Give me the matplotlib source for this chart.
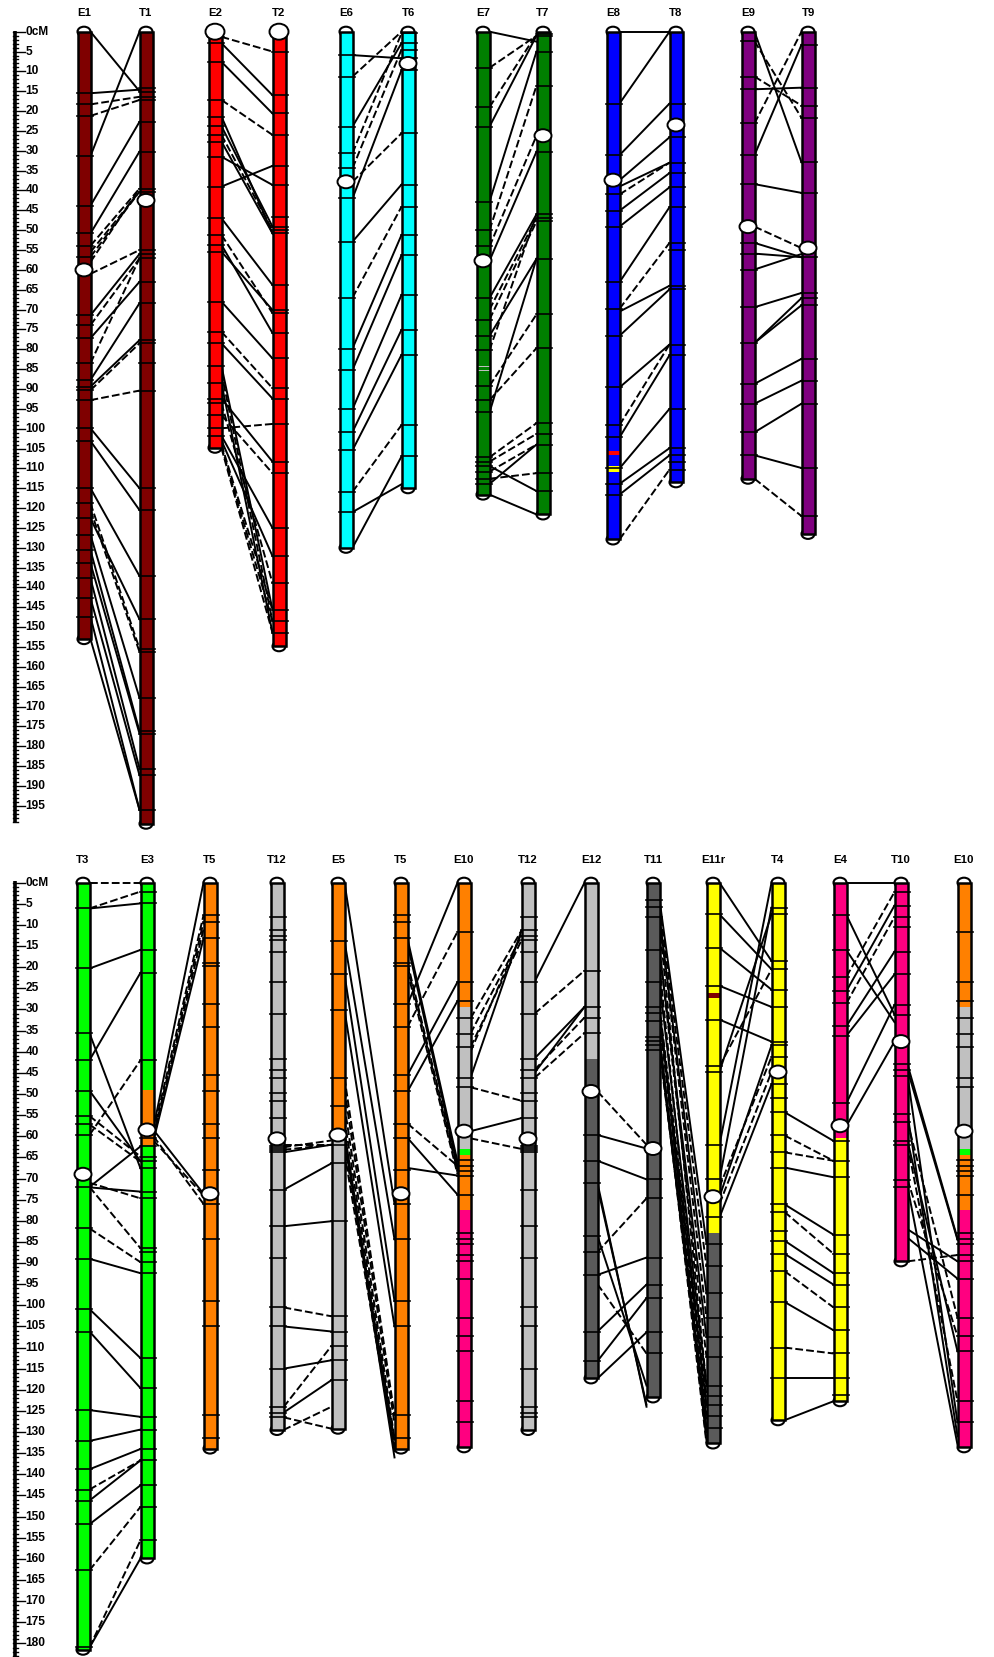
import numpy as np
import matplotlib.pyplot as plt
from matplotlib.patches import Rectangle, Ellipse

plt.rcParams['font.family'] = ['Liberation Sans', 'DejaVu Sans']

# ---------------- top panel data ----------------
top_names = ['E1', 'T1', 'E2', 'T2', 'E6', 'T6', 'E7', 'T7', 'E8', 'T8', 'E9', 'T9']
top_len = [153, 199.5, 104.8, 154.8, 130, 115, 116.6, 121.6, 127.9, 113.5, 112.6, 126.5]
top_cent = [60, 42.5, 0, 0, 37.8, 8, 57.7, 26.2, 37.4, 23.5, 49.1, 54.5]

e1_marks = [15.5, 18.3, 21.2, 31.3, 43.8, 50.8, 53.9, 56.7, 71.4, 73.9, 77.2, 83.5, 87.7,
            89.4, 90.3, 92.8, 99.9, 103.1, 115, 118.8, 122.6, 126.8, 130.6, 133.9, 137.7,
            142.7, 147.4]
t1_marks = [14.3, 15.1, 16.4, 17.2, 22.7, 30.2, 39.5, 40.3, 55, 56, 57.1, 63, 68.4, 77.7,
            78.5, 83.5, 90.4, 115, 120.5, 137.1, 148, 155.4, 156.2, 167.8, 176.2, 176.8,
            185.6, 187.3, 196]
e2_marks = [1.3, 2.9, 7.6, 17.2, 21.4, 23.8, 26, 27.7, 31.5, 39, 47, 51.2, 53.7, 55.4, 68,
            75.6, 78.5, 84.2, 88.6, 92.4, 93.6, 96.6, 99.9, 101.8]
t2_marks = [5, 16, 20.6, 26, 33.8, 38.6, 46.6, 49.1, 50, 50.8, 63.8, 70.1, 70.9, 75.9, 82.3,
            89.8, 92.4, 98.8, 108.3, 111.2, 125, 132.1, 138.9, 145.6, 148.5, 151.4]
e6_marks = [5.9, 11.3, 23.9, 30.6, 34.4, 42, 52.9, 67, 79.8, 85.2, 95.1, 100.8, 105.4,
            115.9, 121]
t6_marks = [0.4, 2.9, 4.5, 6.7, 9.7, 25.6, 38.5, 44.1, 51.2, 56.3, 66.3, 75.1, 81.4, 99.1, 107]
e7_marks = [9.1, 19, 23.9, 42.8, 50, 54.1, 67.1, 72.5, 76.6, 80.2, 89.2, 92.8, 95.9, 107.2,
            108.3, 109.4, 110.8, 112.6, 113.9]
t7_marks = [0.6, 1, 5, 13.6, 30.2, 46, 46.9, 47.8, 57.2, 71.2, 79.7, 98.6, 101.3, 104,
            111.2, 115.7]
e8_marks = [18.1, 31.1, 41, 45.1, 49.1, 63.1, 69.8, 76.6, 89.6, 99.1, 102.2, 110, 113.9, 116.6]
t8_marks = [18.1, 26.6, 33, 35.6, 39.2, 44.2, 53.2, 55, 64, 64.9, 78.8, 81.5, 95, 104.9,
            106.7, 108.5, 110.3]
e9_marks = [2.4, 11.3, 14.5, 23.1, 31.1, 38.4, 53.2, 55.9, 59.9, 69.4, 78.4, 88.7, 93.7,
            100.9, 106.7]
t9_marks = [3.3, 14.1, 18.6, 21.7, 32.9, 40.6, 56.8, 65.8, 67.1, 68.9, 82.4, 87.9, 93.7,
            109.9, 122]

# links: (cM on left map, cM on right map, dashed)
e1_t1 = [(0, 15, 0), (31.3, 0, 0), (15.5, 14.6, 0), (18.3, 16.4, 1), (21.2, 17.2, 1),
         (43.8, 22.7, 0), (50.8, 30.2, 0), (53.9, 39.5, 1), (55.5, 40.3, 1), (56.7, 40.3, 1),
         (58, 39.5, 1), (61, 55, 1), (71.4, 56, 0), (73.9, 57.1, 1), (77.2, 63, 0),
         (83.5, 57.1, 1), (87.7, 68.4, 0), (89.4, 77.7, 0), (90.3, 78.5, 1), (92.8, 90.4, 1),
         (99.9, 115, 0), (103.1, 120.5, 0), (115, 137.1, 0), (118.8, 155.4, 1),
         (120.5, 156.2, 1), (122.6, 148, 0), (126.8, 167.8, 0), (130.6, 176.2, 0),
         (133.9, 176.8, 0), (137.7, 185.6, 0), (142.7, 187.3, 0), (147.4, 196, 0),
         (153, 196, 0)]
e2_t2 = [(1.3, 5, 1), (2.9, 16, 0), (7.6, 20.6, 0), (17.2, 26, 1), (21.4, 50.8, 0),
         (23.8, 49.1, 0), (26, 50, 1), (27.7, 50.8, 0), (31.5, 38.6, 0), (39, 33.8, 0),
         (47, 63.8, 0), (51.2, 70.9, 1), (53.7, 75.9, 0), (55.4, 70.1, 0), (68, 82.3, 0),
         (75.6, 89.8, 1), (78.5, 92.4, 0), (84.2, 145.6, 0), (86, 148.5, 1), (88.6, 151.4, 0),
         (92.4, 108.3, 0), (93.6, 138.9, 1), (96.6, 111.2, 1), (99.9, 98.8, 1),
         (101.8, 125, 0), (103, 132.1, 0), (104.9, 151.4, 1), (104.5, 148.5, 1),
         (104, 145.6, 1)]
e6_t6 = [(5.9, 6.7, 0), (11.3, 0, 1), (23.9, 2.9, 0), (30.6, 0.4, 1), (34.4, 4.5, 1),
         (37.8, 25.6, 1), (42, 9.7, 0), (52.9, 38.5, 0), (67, 44.1, 1), (79.8, 51.2, 0),
         (85.2, 56.3, 0), (95.1, 66.3, 0), (100.8, 75.1, 0), (105.4, 81.4, 0),
         (115.9, 99.1, 1), (121, 114, 0), (130, 107, 0)]
e7_t7 = [(0, 2.5, 0), (9.1, 1, 1), (19, 0.6, 1), (23.9, 1, 0), (42.8, 5, 0), (50, 13.6, 1),
         (54.1, 26.2, 1), (57.7, 30.2, 0), (67.1, 46, 0), (70, 46.9, 1), (72.5, 47.8, 1),
         (76.6, 57.2, 0), (80.2, 46, 1), (89.2, 71.2, 1), (92.8, 79.7, 1), (95.9, 57.2, 0),
         (107.2, 98.6, 1), (108.3, 101.3, 1), (110.8, 104, 1), (112.6, 111.2, 1),
         (109.4, 115.7, 0), (113.9, 104, 0), (116.6, 121.6, 0)]
e8_t8 = [(0, 0, 0), (18.1, 0, 0), (31.1, 18.1, 0), (37.4, 26.6, 0), (39, 33, 0), (41, 33, 1),
         (45.1, 35.6, 0), (49.1, 39.2, 0), (63.1, 44.2, 0), (69.8, 53.2, 1), (70.5, 64, 0),
         (76.6, 64.9, 0), (89.6, 78.8, 0), (99.1, 78.8, 1), (102.2, 81.5, 0), (110, 95, 0),
         (113.9, 104.9, 0), (116.6, 106.7, 0), (127.9, 110.3, 1)]
e9_t9 = [(0, 32.9, 0), (2.4, 21.7, 1), (11.3, 18.6, 1), (14.5, 14.1, 0), (23.1, 0, 1),
         (31.1, 3.3, 0), (38.4, 40.6, 0), (49.1, 54.5, 1), (53.2, 56.8, 0), (55.9, 56.8, 0),
         (59.9, 56, 0), (69.4, 65.8, 0), (78.4, 67.1, 0), (78.4, 68.9, 0), (88.7, 82.4, 0),
         (93.7, 87.9, 0), (100.9, 93.7, 0), (106.7, 109.9, 0), (112.6, 122, 1)]

# ---------------- bottom panel data ----------------
bot_names = ['T3', 'E3', 'T5', 'T12', 'E5', 'T5', 'E10', 'T12', 'E12', 'T11', 'E11r',
             'T4', 'E4', 'T10', 'E10']
bot_len = [181.5, 159.9, 133.9, 129.5, 129.2, 133.9, 133.6, 129.5, 117.3, 121.8, 132.7,
           127.2, 122.7, 89.6, 133.6]
bot_cent = [69, 58.5, 73.6, 60.6, 59.7, 73.6, 58.8, 60.6, 49.4, 62.9, 74.3, 44.8, 57.5,
            37.6, 58.8]

t3_marks = [6.1, 20.3, 35.6, 42, 49.2, 55.2, 57.2, 59.7, 72.1, 81.8, 89, 100.9, 106.2, 124.8,
            132.1, 138.8, 143.6, 146.2, 151.8, 162.7, 180.9]
e3_marks = [2.1, 4.9, 15.9, 21.3, 42, 60.5, 62.4, 64.8, 65.9, 67.6, 73.1, 74.7, 86.5, 87.3,
            89.8, 92.4, 112.5, 119.6, 126.4, 129.4, 134, 136.7, 142.6, 147.7, 155.6]
t5_marks = [7.7, 9.3, 13.2, 19, 19.8, 28.8, 34.1, 45.5, 49.4, 57, 60.4, 68, 76, 84.4, 99,
            105, 125.9, 131.5]
t12_marks = [8.1, 11.3, 12.6, 13.6, 16.3, 23.5, 31, 41.6, 44.3, 46.2, 49.8, 51.6, 55.7, 62.3,
             62.8, 63.3, 63.8, 72.7, 81.3, 88.7, 100.5, 105, 115, 124.1, 125.4, 126.5]
e5_marks = [13.8, 21.7, 30.1, 46.2, 52.8, 62, 66.4, 80.1, 102.6, 106.2, 109.6, 113, 117.7]
e10_marks = [11.6, 23.5, 28, 32.1, 35.7, 38.9, 46.2, 48.4, 65.6, 67, 68.2, 69.3, 73.8, 82.8,
             84.2, 85.6, 88.1, 89.6, 93.7, 102.9, 107.3, 110.9, 122.7, 127.7]
e12_marks = [20.8, 29.4, 31.9, 35.6, 59.7, 65.8, 71.1, 83.6, 87.4, 92.8, 106.2, 113.2]
t11_marks = [4, 5.8, 8.1, 16, 23.5, 29.4, 30.8, 32.8, 36.5, 37.5, 38.5, 39.5, 70.2, 74.7,
             88.7, 95.1, 98.3, 106.4, 111.4]
e11_marks = [7.5, 15.4, 24.4, 32.4, 43.4, 44.7, 62, 70.2, 79.2, 85.4, 90.8, 97.2, 103, 107.5,
             112.3, 119.1, 121.4, 123.6, 126.1, 129]
t4_marks = [5.9, 7.5, 18.5, 20.5, 25.3, 29.4, 37.6, 38.5, 41.2, 47.7, 50.9, 54.3, 59.8, 63.8,
            67.4, 76.1, 77.9, 82.4, 84.7, 87.8, 91.9, 99.2, 110, 117.3]
e4_marks = [7.7, 16, 22.2, 25.6, 28.5, 33.9, 36.2, 52.1, 61.1, 65.8, 69.7, 83.3, 87.8, 92.4,
            95.1, 100.5, 105.9, 111.4, 117.3, 121.3]
t10_marks = [2.2, 5.4, 8.1, 10.4, 16.3, 21.7, 28.9, 31.2, 43, 44.3, 45.7, 54.8, 56.6, 61.1,
             62, 70.3, 71.9]

t3_e3 = [(0, 0, 1), (6.1, 2.1, 1), (6.1, 4.9, 0), (20.3, 15.9, 0), (42, 21.3, 0),
         (35.6, 67.6, 0), (49.2, 65.9, 0), (55.2, 64.8, 1), (57.2, 66, 1), (59.7, 42, 1),
         (72, 62.4, 0), (72.1, 73.1, 0), (71, 74.7, 1), (72, 86.5, 1), (81.8, 89.8, 1),
         (89, 92.4, 0), (100.9, 112.5, 0), (106.2, 119.6, 0), (124.8, 126.4, 0),
         (132.1, 129.4, 0), (138.8, 134, 0), (143.6, 136.7, 1), (146.2, 136.7, 0),
         (151.8, 142.6, 0), (162.7, 147.7, 1), (180.9, 155.6, 1), (181, 159.9, 0)]
e3_t5 = [(58, 0, 0), (59, 7.7, 1), (60, 9.3, 1), (61, 13.2, 0), (60.5, 11, 1), (58.5, 73.6, 0),
         (60, 76, 1), (61, 74, 1)]
t12_e5 = [(62, 62, 1), (62.6, 61, 1), (63.2, 62, 1), (63.8, 62, 0), (72.7, 66.4, 0),
          (81.3, 80.1, 0), (100.5, 102.6, 1), (105, 106.2, 0), (115, 113, 0), (124.1, 109.6, 1),
          (125.4, 117.7, 0), (129.5, 124, 1), (126.5, 129.2, 1)]
e5_t5 = [(0, 76, 0), (13.8, 84.4, 0), (21.7, 99, 0), (30.1, 105, 0), (46.2, 126, 1),
         (49, 128, 1), (52.8, 131.5, 1), (56, 133, 1), (59, 134.5, 0), (60.5, 136, 0),
         (62, 132, 1), (64, 134, 1)]
t5_e10 = [(28.8, 0, 0), (34.1, 11.6, 1), (45.5, 23.5, 0), (49.4, 28, 0), (13.2, 66, 0),
          (14.5, 67, 0), (19, 67.5, 1), (19.8, 68.2, 1), (21, 69, 1), (57, 67, 1),
          (60.4, 73.8, 0), (67.5, 69.3, 0)]
e10_t12 = [(32.1, 11.3, 1), (35.7, 12.6, 1), (38.9, 13.6, 1), (40, 12, 1), (46.2, 11.3, 0),
           (48.4, 51.6, 1), (58.8, 55.7, 0), (60.5, 63, 1)]
t12_e12 = [(23.5, 0, 0), (31, 20.8, 1), (41.6, 29.4, 0), (44.3, 31.9, 1), (46.2, 35.6, 1),
           (45, 29.4, 0)]
e12_t11 = [(49.4, 62, 1), (59.7, 62.9, 0), (65.8, 70.2, 0), (71.1, 124, 0), (72, 123.5, 0),
           (83.6, 119, 0), (87.4, 74.7, 1), (92.8, 88.7, 0), (106.2, 95.1, 0),
           (113.2, 98.3, 0), (95, 111.4, 1), (117.3, 106.4, 0)]
t11_e11 = [(4, 85.4, 0), (5.8, 90.8, 1), (8.1, 97.2, 0), (8.1, 103, 1), (16, 107.5, 0),
           (16, 112.3, 1), (23.5, 119.1, 0), (29.4, 121.4, 1), (30.8, 123.6, 0),
           (32.8, 126.1, 1), (36.5, 129, 0), (37.5, 132.7, 1), (38.5, 130, 0), (39.5, 127, 1),
           (30, 132, 0), (10, 119, 1), (20, 126, 1)]
e11_t4 = [(0, 18.5, 0), (7.5, 20.5, 0), (15.4, 25.3, 0), (24.4, 29.4, 0), (32.4, 37.6, 0),
          (43.4, 20.5, 1), (44.7, 7.5, 0), (62, 0, 0), (70.2, 5.9, 0), (74.3, 38.5, 0),
          (72, 41.2, 1), (79.2, 47.7, 0), (76, 44.8, 1)]
t4_e4 = [(54.3, 61.1, 0), (59.8, 65.8, 1), (63.8, 65.8, 1), (67.4, 69.7, 0), (76.1, 83.3, 0),
         (77.9, 87.8, 1), (84.7, 92.4, 0), (87.8, 95.1, 0), (91.9, 100.5, 1), (99.2, 105.9, 0),
         (110, 111.4, 1), (117.3, 117.3, 0), (127.2, 122.7, 0)]
e4_t10 = [(0, 0, 0), (7.7, 31.2, 0), (16, 33, 0), (22.2, 2.2, 1), (25.6, 5.4, 0),
          (28.5, 8.1, 1), (33.9, 16.3, 0), (36.2, 21.7, 0), (52.1, 28.9, 0), (57.5, 37.6, 0)]
t10_e10 = [(43, 84.2, 0), (44.3, 84.5, 0), (45.7, 127.7, 0), (54.8, 131, 0), (56.6, 102.9, 1),
           (61.1, 110.9, 0), (62, 122.7, 1), (70.3, 107.3, 1), (71.9, 133, 0), (82, 89.6, 0),
           (89.6, 88.1, 1), (84, 93.7, 0)]

# coloured blocks on mosaic maps: (start cM, end cM, colour key)
e3_blocks = [(0, 49, 'green'), (49, 62, 'orange'), (62, 159.9, 'green')]
e5_blocks = [(0, 59.7, 'orange'), (59.7, 129.2, 'grey')]
e10_blocks = [(0, 29.4, 'orange'), (29.4, 63, 'grey'), (63, 64.4, 'green'),
              (64.4, 77.4, 'orange'), (77.4, 133.6, 'pink')]
e11_blocks = [(0, 82.8, 'yellow'), (82.8, 132.7, 'dark'), (26, 27.3, 'maroon')]
e12_blocks = [(0, 41.6, 'grey'), (41.6, 117.3, 'dark')]
e4_blocks = [(0, 60.5, 'pink'), (60.5, 122.7, 'yellow')]
e8_blocks = [(0, 127.9, 'blue'), (105.6, 106.6, 'red'), (109.4, 110.8, 'yellow')]
e7_blocks = [(0, 116.6, 'dkgreen'), (84.1, 84.5, 'grey'), (85.1, 85.5, 'grey')]

pal = {'maroon': '#7f0000', 'red': '#ff0000', 'cyan': '#00ffff', 'dkgreen': '#007f00',
       'blue': '#0000ff', 'purple': '#7f007f', 'green': '#00ff00', 'orange': '#ff8000',
       'grey': '#c0c0c0', 'dark': '#5a5a5a', 'yellow': '#ffff00', 'pink': '#ff0080'}

top_x = [84, 146, 215, 279, 346, 408, 483, 543, 613, 676, 748, 808]
bot_x = [83, 147, 210, 277, 338, 401, 464, 528, 591, 653, 713, 778, 840, 901, 964]

top_marks = [e1_marks, t1_marks, e2_marks, t2_marks, e6_marks, t6_marks, e7_marks, t7_marks,
             e8_marks, t8_marks, e9_marks, t9_marks]
top_blocks = [[(0, top_len[i], c)] for i, c in enumerate(
    ['maroon', 'maroon', 'red', 'red', 'cyan', 'cyan', None, 'dkgreen', None, 'blue',
     'purple', 'purple'])]
top_blocks[6] = e7_blocks
top_blocks[8] = e8_blocks
top_links = {(0, 1): e1_t1, (2, 3): e2_t2, (4, 5): e6_t6, (6, 7): e7_t7, (8, 9): e8_t8,
             (10, 11): e9_t9}

bot_marks = [t3_marks, e3_marks, t5_marks, t12_marks, e5_marks, t5_marks, e10_marks,
             t12_marks, e12_marks, t11_marks, e11_marks, t4_marks, e4_marks, t10_marks,
             e10_marks]
bot_blocks = [[(0, bot_len[0], 'green')], e3_blocks, [(0, bot_len[2], 'orange')],
              [(0, bot_len[3], 'grey')], e5_blocks, [(0, bot_len[5], 'orange')], e10_blocks,
              [(0, bot_len[7], 'grey')], e12_blocks, [(0, bot_len[9], 'dark')], e11_blocks,
              [(0, bot_len[11], 'yellow')], e4_blocks, [(0, bot_len[13], 'pink')], e10_blocks]
bot_links = {(0, 1): t3_e3, (1, 2): e3_t5, (3, 4): t12_e5, (4, 5): e5_t5, (5, 6): t5_e10,
             (6, 7): e10_t12, (7, 8): t12_e12, (8, 9): e12_t11, (9, 10): t11_e11,
             (10, 11): e11_t4, (11, 12): t4_e4, (12, 13): e4_t10, (13, 14): t10_e10}

W = 13  # bar width in px


def draw_panel(ax, ppc, names, xs, lens, cents, marks, blocks, links, ruler_max, big_cent=()):
    # scale ruler
    ax.plot([14.5, 14.5], [-0.3, ruler_max + 0.3], color='k', lw=2.6, solid_capstyle='butt')
    for v in range(0, int(ruler_max) + 1):
        ln = 11 if v % 5 == 0 else 4
        ax.plot([12.5, 14 + ln], [v, v], color='k', lw=1.0)
        if v % 5 == 0:
            ax.text(25.5, v, '%dcM' % v if v == 0 else str(v), fontsize=8.6,
                    va='center', ha='left', fontweight='bold')
    # connecting lines
    for (i, j), lk in links.items():
        x0 = xs[i] + W / 2
        x1 = xs[j] - W / 2
        for a, b, d in lk:
            ax.plot([x0, x1], [a, b], color='k', lw=1.4,
                    ls=(0, (4, 1.6)) if d else '-', zorder=1)
    # chromosomes
    for k, nm in enumerate(names):
        x = xs[k]
        L = lens[k]
        cap = 10 / ppc
        for y in (0, L):
            ax.add_patch(Ellipse((x, y), W, cap, fc='white', ec='k', lw=1.5, zorder=2))
        for s, e, c in blocks[k]:
            ax.add_patch(Rectangle((x - W / 2, s), W, e - s, fc=pal[c], ec='none', zorder=3))
        ax.add_patch(Rectangle((x - W / 2, 0), W, L, fc='none', ec='k', lw=1.8, zorder=4))
        for m in marks[k]:
            ax.plot([x - W / 2 - 1, x + W / 2 + 2], [m, m], color='k', lw=1.2, zorder=4)
        cw, ch = (19, 16) if k in big_cent else (17, 13)
        ax.add_patch(Ellipse((x, cents[k]), cw, ch / ppc, fc='white', ec='k', lw=1.4,
                             zorder=5))
        ax.text(x, -4.6 if ppc < 4 else -5.4, nm, ha='center', va='center', fontsize=8.2,
                fontweight='bold')


fig = plt.figure(figsize=(9.94, 16.57), dpi=100)
H = 1657.0

ax1 = fig.add_axes([0, 1 - 830 / H, 1, 830 / H])
ax1.set_xlim(0, 994)
ax1.set_ylim((830 - 31.7) / 3.97, -31.7 / 3.97)
ax1.axis('off')
ax1.patch.set_alpha(0)
draw_panel(ax1, 3.97, top_names, top_x, top_len, top_cent, top_marks, top_blocks, top_links,
           199, big_cent=(2, 3))

ax2 = fig.add_axes([0, 0, 1, 827 / H])
ax2.set_xlim(0, 994)
ax2.set_ylim((1657 - 882.7) / 4.226, (830 - 882.7) / 4.226)
ax2.axis('off')
ax2.patch.set_alpha(0)
draw_panel(ax2, 4.226, bot_names, bot_x, bot_len, bot_cent, bot_marks, bot_blocks, bot_links,
           183)

fig.savefig('out.png', dpi=100)
plt.close()
